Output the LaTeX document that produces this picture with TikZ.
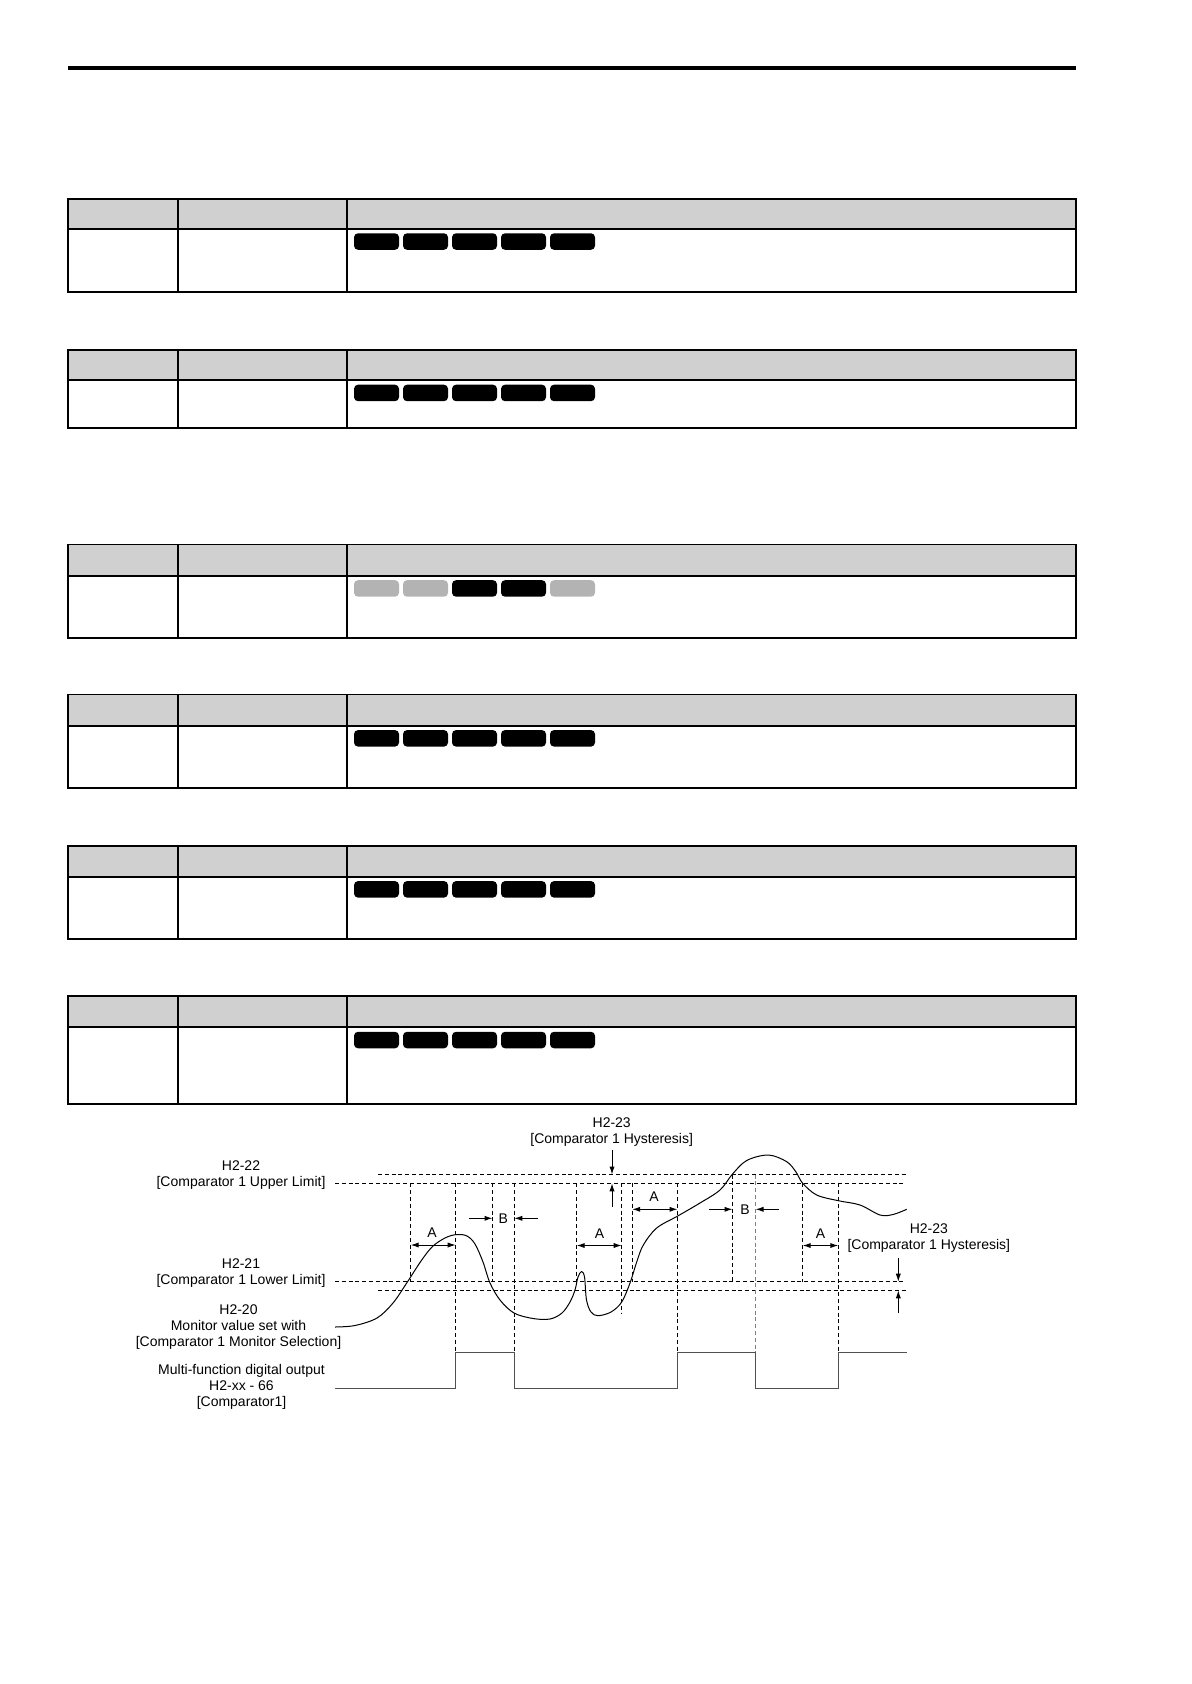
\documentclass[tikz,border=0pt]{standalone}
\usepackage{fontspec}
\setmainfont{Liberation Sans}
\usetikzlibrary{arrows.meta}
\definecolor{hdrgray}{RGB}{208,208,208}
\definecolor{badgeon}{RGB}{0,0,0}
\definecolor{badgeoff}{RGB}{179,179,179}
\definecolor{pulsegray}{RGB}{80,80,80}

\begin{document}
\begin{tikzpicture}[
  x=0.5pt,y=-0.5pt,
  every node/.style={font=\fontsize{7}{8}\selectfont,inner sep=0pt},
  lbl/.style={align=center},
  tblline/.style={line width=0.9pt},
  badge/.style={rounded corners=2pt},
  dline/.style={line width=0.6pt,dash pattern=on 2pt off 1.4pt},
  dim/.style={line width=0.5pt,-{Latex[length=4pt,width=2.6pt]}},
  ddim/.style={line width=0.5pt,{Latex[length=4pt,width=2.6pt]}-{Latex[length=4pt,width=2.6pt]}},
  ]
  \useasboundingbox (0,0) rectangle (1191,1684);

  %─── Page rule ──────────────────────────────────────────────────────────────
  \draw[line width=2pt] (68,67.7) -- (1076,67.7);

  %─── Parameter tables (text left empty, access badges only) ────────────────
  \foreach \tt/\hb/\bb/\ca/\cb/\cc/\cd/\ce in {
      198.7/228.8/292.1/badgeon/badgeon/badgeon/badgeon/badgeon,
      350.1/380.2/427.9/badgeon/badgeon/badgeon/badgeon/badgeon,
      544.4/575.7/638.2/badgeoff/badgeoff/badgeon/badgeon/badgeoff,
      694.5/725.6/788.3/badgeon/badgeon/badgeon/badgeon/badgeon,
      845.6/876.6/939.1/badgeon/badgeon/badgeon/badgeon/badgeon,
      996.3/1027.3/1104.2/badgeon/badgeon/badgeon/badgeon/badgeon}{
    \fill[hdrgray] (68,\tt) rectangle (1076,\hb);
    \draw[tblline] (68,\tt) rectangle (1076,\bb);
    \draw[tblline] (68,\hb) -- (1076,\hb);
    \draw[tblline] (178.3,\tt) -- (178.3,\bb) (347.2,\tt) -- (347.2,\bb);
    \foreach \c/\i in {\ca/0,\cb/1,\cc/2,\cd/3,\ce/4}
      \fill[fill=\c,badge] ({354+49*\i},\hb+4.5) rectangle +(45,16.5);
  }

  %─── Limit and hysteresis levels ───────────────────────────────────────────
  \draw[dline] (378,1174.5) -- (906,1174.5);
  \draw[dline] (335,1183.3) -- (906,1183.3);
  \draw[dline] (335,1281.7) -- (906,1281.7);
  \draw[dline] (378,1290.3) -- (906,1290.3);

  %─── Time markers ──────────────────────────────────────────────────────────
  \foreach \vx/\va/\vb in {410.7/1183.3/1281.7, 455.7/1183.3/1352.7,
      492.5/1183.3/1281.7, 514.3/1183.3/1352.7, 576.7/1183.3/1281.7,
      621.7/1183.3/1314, 632.2/1183.3/1281.7, 677.5/1183.3/1352.7,
      732.5/1174.5/1281.7, 802.7/1183.3/1281.7, 838.3/1183.3/1352.7}
    \draw[dline] (\vx,\va) -- (\vx,\vb);
  \draw[dline,gray] (755.5,1174.5) -- (755.5,1352.7);

  %─── Monitor value (H2-20) ─────────────────────────────────────────────────
  \draw[line width=0.5pt] plot[smooth,tension=0.55] coordinates {
      (335,1327) (355,1325.5) (377,1318) (393,1303) (406.7,1283)
      (421.7,1260) (433,1246) (446,1237.5) (457,1234.5) (467,1236)
      (475,1244) (483,1262) (490,1283) (500,1300) (514,1313)
      (533,1318.5) (550,1319) (562,1313) (570,1302) (575,1290)
      (578,1277) (581.5,1271.5) (584.5,1277) (586.5,1300) (591,1312)
      (598,1315.7) (611,1312) (621.7,1302) (630,1283) (636.7,1262)
      (643.3,1245) (656.7,1228) (677.7,1216) (700,1203) (720,1190)
      (732.3,1174.3) (746.7,1160.5) (768.3,1155) (786.7,1161.7)
      (796,1172) (802.7,1183.3) (816.7,1195) (838.3,1200.7)
      (860,1205) (880,1215) (893,1214.5) (906.7,1209.3)};

  %─── Digital output ────────────────────────────────────────────────────────
  \draw[line width=0.6pt,pulsegray]
    (335,1388.3) -- (455.7,1388.3) -- (455.7,1352.7) -- (514.3,1352.7)
    -- (514.3,1388.3) -- (677.5,1388.3) -- (677.5,1352.7) -- (755.5,1352.7)
    -- (755.5,1388.3) -- (838.3,1388.3) -- (838.3,1352.7) -- (906.5,1352.7);

  %─── Delay times A / B ─────────────────────────────────────────────────────
  \draw[ddim] (410.7,1245) -- (455.7,1245);
  \node (a1) at (432,1233) {A};
  \draw[dim] (469,1218.3) -- (492.5,1218.3);
  \node (b1) at (503.4,1218.3) {B};
  \draw[dim] (537.7,1218.3) -- (514.3,1218.3);
  \draw[ddim] (576.7,1245.5) -- (621.7,1245.5);
  \node (a2) at (599.5,1233.5) {A};
  \draw[ddim] (632.2,1209.3) -- (677.5,1209.3);
  \node (a3) at (654,1197) {A};
  \draw[dim] (709.3,1209.3) -- (732.5,1209.3);
  \node (b2) at (745,1209.3) {B};
  \draw[dim] (779,1209.3) -- (755.5,1209.3);
  \draw[ddim] (802.7,1245.5) -- (838.3,1245.5);
  \node (a4) at (820.5,1233.5) {A};

  %─── Hysteresis (H2-23) ────────────────────────────────────────────────────
  \node[lbl] (hystTop) at (611.7,1132) {H2-23\\{}[Comparator 1 Hysteresis]};
  \draw[dim] (612,1150) -- (612,1174.5);
  \draw[dim] (612,1206.7) -- (612,1183.3);
  \node[lbl] (hystRgt) at (928.8,1238.5) {H2-23\\{}[Comparator 1 Hysteresis]};
  \draw[dim] (898.3,1258.3) -- (898.3,1281.7);
  \draw[dim] (898.3,1313.3) -- (898.3,1290.3);

  %─── Left-hand labels ──────────────────────────────────────────────────────
  \node[lbl] (upLbl) at (241,1175.5) {H2-22\\{}[Comparator 1 Upper Limit]};
  \node[lbl] (loLbl) at (241,1273.5) {H2-21\\{}[Comparator 1 Lower Limit]};
  \node[lbl] (monLbl) at (238.5,1327) {H2-20\\Monitor value set with\\{}[Comparator 1 Monitor Selection]};
  \node[lbl] (outLbl) at (241.5,1387) {Multi-function digital output\\H2-xx - 66\\{}[Comparator1]};

\end{tikzpicture}
\end{document}
